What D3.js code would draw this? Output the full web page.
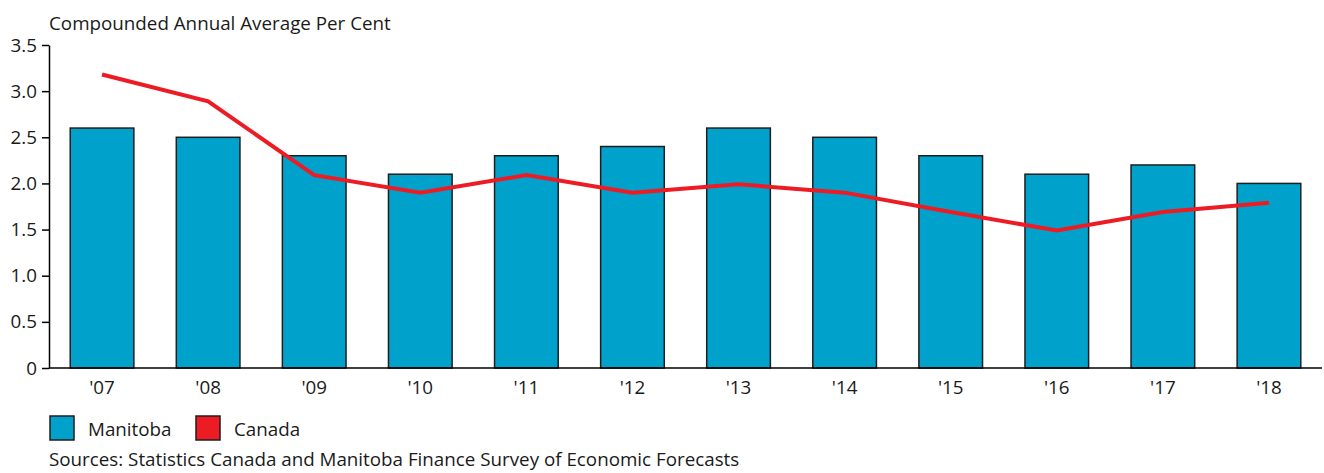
<!DOCTYPE html>
<html><head><meta charset="utf-8">
<script src="https://cdn.jsdelivr.net/npm/d3@7"></script>
<style>body{margin:0;background:#fff}svg{display:block}text{font-family:"Open Sans",sans-serif;fill:#1a1a1a}</style>
</head><body>
<script>
const categories = ["'07","'08","'09","'10","'11","'12","'13","'14","'15","'16","'17","'18"];
const manitoba = [2.6,2.5,2.3,2.1,2.3,2.4,2.6,2.5,2.3,2.1,2.2,2.0];
const canada = [3.18,2.89,2.09,1.9,2.09,1.9,1.99,1.9,1.69,1.49,1.69,1.79];
const yTicks = [0,0.5,1.0,1.5,2.0,2.5,3.0,3.5];
const yTickLabels = ["0","0.5","1.0","1.5","2.0","2.5","3.0","3.5"];
const seriesNames = ["Manitoba","Canada"];
const title = "Compounded Annual Average Per Cent";
const source = "Sources: Statistics Canada and Manitoba Finance Survey of Economic Forecasts";

const W=1324,H=473,FS=18.8;
const svg=d3.select("body").append("svg").attr("width",W).attr("height",H);
const x=d3.scaleBand().domain(categories).range([49,1322]).paddingInner(0.4).paddingOuter(0.2);
const y=d3.scaleLinear().domain([0,3.5]).range([368,45]);

svg.append("text").attr("x",49).attr("y",30).attr("font-size",FS).text(title);

svg.selectAll("rect.bar").data(manitoba).join("rect").attr("class","bar")
 .attr("x",(d,i)=>x(categories[i])).attr("width",x.bandwidth())
 .attr("y",d=>y(d)).attr("height",d=>y(0)-y(d))
 .attr("fill","#00a1cb").attr("stroke","#1e1e1e").attr("stroke-width",1.5);

const yAxis=svg.append("g").attr("transform","translate(49,0)")
 .call(d3.axisLeft(y).tickValues(yTicks).tickFormat((d,i)=>yTickLabels[i]).tickSize(7).tickSizeOuter(0));
yAxis.select(".domain").attr("stroke","#000").attr("stroke-width",1.5);
yAxis.selectAll(".tick line").attr("stroke","#000").attr("stroke-width",1.5);
yAxis.selectAll(".tick text").attr("font-size",FS).attr("x",-12).attr("font-family","Open Sans").attr("fill","#1a1a1a");

const xAxis=svg.append("g").attr("transform","translate(0,368)")
 .call(d3.axisBottom(x).tickSize(0).tickSizeOuter(0).tickPadding(13));
xAxis.select(".domain").attr("stroke","#000").attr("stroke-width",1.5).attr("d","M49,0H1322");
xAxis.selectAll(".tick text").attr("font-size",FS).attr("font-family","Open Sans").attr("fill","#1a1a1a");

const line=d3.line().x((d,i)=>x(categories[i])+x.bandwidth()/2).y(d=>y(d));
svg.append("path").datum(canada).attr("d",line).attr("fill","none")
 .attr("stroke","#ed1c24").attr("stroke-width",4);

const leg=[{n:seriesNames[0],c:"#00a1cb",x:50},{n:seriesNames[1],c:"#ed1c24",x:196}];
leg.forEach(l=>{
 svg.append("rect").attr("x",l.x).attr("y",416).attr("width",24).attr("height",24)
  .attr("fill",l.c).attr("stroke","#1e1e1e").attr("stroke-width",1.5);
 svg.append("text").attr("x",l.x+38).attr("y",436).attr("font-size",FS).text(l.n);
});
svg.append("text").attr("x",49).attr("y",466).attr("font-size",FS).text(source);
</script>
</body></html>
